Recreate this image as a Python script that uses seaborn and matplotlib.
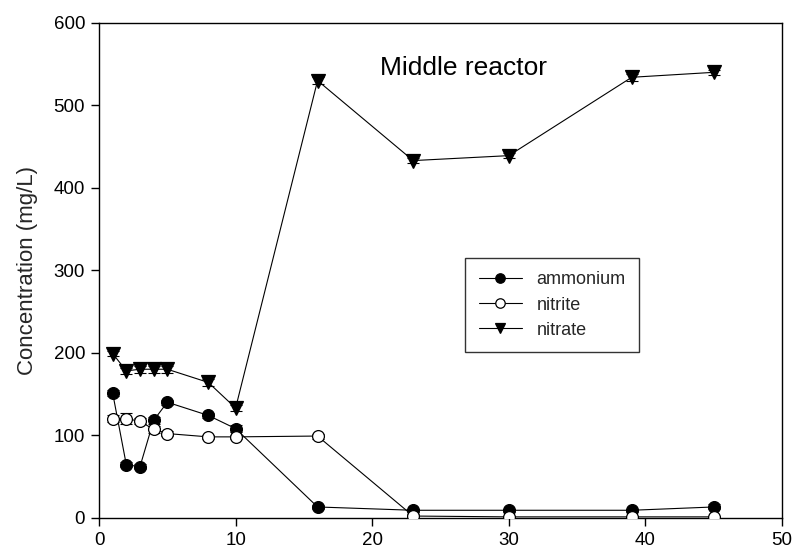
import matplotlib
matplotlib.use("Agg")
import matplotlib.pyplot as plt
import seaborn as sns
import pandas as pd
from matplotlib.lines import Line2D

# Sampling days
days = [1, 2, 3, 4, 5, 8, 10, 16, 23, 30, 39, 45]

# Concentrations (mg/L)
ammonium = [151, 64, 62, 118, 140, 124, 108, 13, 9, 9, 9, 13]
nitrite = [120, 120, 117, 107, 102, 98, 98, 99, 2, 1, 1, 1]
nitrate = [199, 178, 180, 180, 180, 164, 133, 530, 433, 439, 534, 540]

# Standard deviations
ammonium_sd = [4, 3, 3, 4, 3, 3, 4, 2, 2, 2, 2, 3]
nitrite_sd = [4, 7, 4, 4, 3, 2, 2, 3, 2, 1, 1, 1]
nitrate_sd = [3, 4, 4, 4, 4, 4, 4, 4, 3, 3, 4, 3]

series_names = ["ammonium", "nitrite", "nitrate"]

sns.set_theme(style="ticks")
plt.rcParams["font.family"] = ["Liberation Sans", "DejaVu Sans"]

fig = plt.figure(figsize=(7.96, 5.56), dpi=100)
ax = fig.add_axes([0.1244, 0.0689, 0.858, 0.890])

styles = {
    "ammonium": dict(marker="o", mfc="black", ms=8.5),
    "nitrite": dict(marker="o", mfc="white", ms=8.5),
    "nitrate": dict(marker="v", mfc="black", ms=9.5),
}
values = {"ammonium": ammonium, "nitrite": nitrite, "nitrate": nitrate}
errors = {"ammonium": ammonium_sd, "nitrite": nitrite_sd, "nitrate": nitrate_sd}

for name in series_names:
    df = pd.DataFrame({"day": days, "conc": values[name]})
    st = styles[name]
    ax.errorbar(days, values[name], yerr=errors[name], fmt="none",
                ecolor="black", elinewidth=0.8, capsize=4.5, capthick=0.8,
                zorder=2)
    sns.lineplot(data=df, x="day", y="conc", ax=ax, color="black",
                 linewidth=0.8, marker=st["marker"], markersize=st["ms"],
                 markerfacecolor=st["mfc"], markeredgecolor="black",
                 markeredgewidth=0.9, zorder=3)

ax.set_xlim(0, 50)
ax.set_ylim(0, 600)
ax.set_xticks([0, 10, 20, 30, 40, 50])
ax.set_yticks([0, 100, 200, 300, 400, 500, 600])
ax.set_xlabel("")
ax.set_ylabel("Concentration (mg/L)", fontsize=16, labelpad=11)
ax.tick_params(axis="both", direction="out", length=6, width=1,
               labelsize=13.5, colors="black", pad=4)
for side in ["top", "right", "left", "bottom"]:
    ax.spines[side].set_visible(True)
    ax.spines[side].set_color("black")
    ax.spines[side].set_linewidth(1.0)

ax.text(26.7, 545, "Middle reactor", fontsize=19, ha="center", va="center",
        color="black")

handles = [
    Line2D([], [], color="black", lw=0.8, marker=styles[n]["marker"],
           markersize=styles[n]["ms"] * 0.8, markerfacecolor=styles[n]["mfc"],
           markeredgecolor="black", markeredgewidth=0.9)
    for n in series_names
]
leg = ax.legend(handles, series_names, loc="upper left",
                bbox_to_anchor=(0.536, 0.525), fontsize=13, frameon=True,
                fancybox=False, edgecolor="black", handlelength=2.4,
                borderpad=0.75, labelspacing=0.45, handletextpad=0.8,
                borderaxespad=0)
leg.get_frame().set_linewidth(1.0)

fig.savefig("out.png", dpi=100)
